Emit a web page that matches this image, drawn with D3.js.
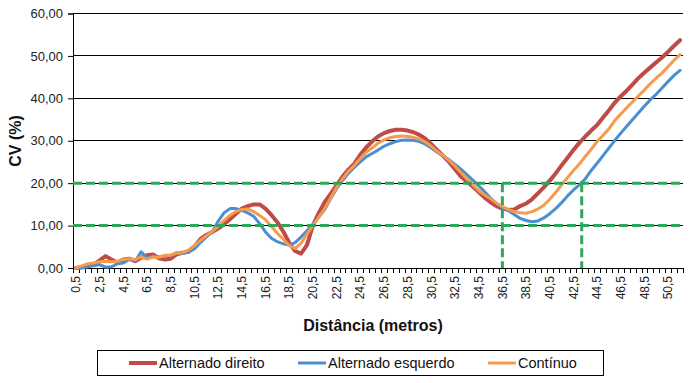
<!DOCTYPE html>
<html><head><meta charset="utf-8">
<script src="https://cdn.jsdelivr.net/npm/d3@7/dist/d3.min.js"></script>
<style>
body{margin:0;background:#fff;}
svg{display:block;font-family:"Liberation Sans",Arial,sans-serif;}
</style></head>
<body><svg id="c" width="692" height="383"></svg>
<script>
const distances = d3.range(0.5, 51.75, 0.5);
const alternadoDireito = [0,0.2,0.5,0.8,1.8,2.8,2.0,1.3,2.0,2.2,1.6,2.4,3.0,3.2,2.3,2.0,2.2,3.2,3.6,3.8,
5.0,6.8,7.8,8.5,9.3,10.3,11.5,12.8,14.0,14.6,15.0,15.0,14.0,12.5,10.8,8.6,6.0,4.0,3.4,5.4,
10.0,13.0,15.5,17.5,19.5,21.5,23.2,24.6,26.7,28.4,29.8,31.0,31.8,32.3,32.6,32.6,32.4,32.0,31.4,30.5,
29.2,27.8,26.4,25.0,23.3,21.6,20.4,19.2,17.9,16.6,15.5,14.6,14.0,13.7,13.8,14.6,15.2,16.2,17.6,19.0,
20.6,22.3,24.2,26.0,27.8,29.5,31.0,32.4,33.7,35.5,37.2,39.0,40.5,41.8,43.3,44.8,46.1,47.3,48.5,49.7,
51.0,52.4,53.7];
const alternadoEsquerdo = [0,0,0.3,0.5,0.8,0.2,0.3,1.0,1.2,2.0,1.6,3.8,2.4,2.8,2.6,2.8,3.0,3.6,3.4,3.8,
4.5,6.0,7.3,8.5,11.0,13.0,14.0,14.0,13.6,13.0,12.2,10.5,8.5,7.0,6.2,5.7,5.4,6.0,7.3,8.8,
10.3,12.0,13.8,16.3,18.7,20.6,22.3,23.7,25.0,26.2,27.0,27.8,28.7,29.3,29.8,30.1,30.2,30.1,29.8,29.2,
28.3,27.3,26.4,25.5,24.4,23.3,22.0,20.7,19.4,18.0,16.5,15.2,14.2,13.5,12.6,11.7,11.2,10.9,11.1,11.8,
12.8,14.0,15.4,17.0,18.4,19.6,21.0,23.0,24.7,26.5,28.3,30.1,31.8,33.4,35.0,36.6,38.2,39.7,41.0,42.5,
44.0,45.4,46.6];
const continuo = [0,0.5,1.0,1.2,1.5,1.6,1.5,1.6,2.0,2.2,2.0,2.6,2.1,2.6,2.5,3.0,3.0,3.5,3.6,4.2,
5.3,6.5,7.6,8.6,9.8,11.2,12.4,13.3,13.8,13.9,13.3,12.4,11.4,9.8,8.2,6.8,5.3,4.6,5.8,8.0,
10.0,12.0,14.0,16.5,19.0,21.0,22.8,24.2,25.8,27.3,28.3,29.4,30.2,30.7,31.0,31.1,31.0,30.8,30.4,29.7,
28.7,27.5,26.5,25.3,24.0,22.5,21.0,19.6,18.2,17.2,16.3,15.3,14.5,13.8,13.3,13.0,12.9,13.3,13.9,14.8,
16.2,17.8,19.6,21.3,23.0,24.5,26.3,28.0,29.8,31.3,32.8,34.8,36.3,37.8,39.2,40.6,42.0,43.5,44.8,46.0,
47.5,49.0,50.3];
const seriesNames = ["Alternado direito","Alternado esquerdo","Contínuo"];
const seriesColors = ["#be4b48","#4a8fd2","#f79a4a"];
const seriesWidths = [4,3,3];
const yTicks = [0,10,20,30,40,50,60];
const xTickLabels = ["0,5","2,5","4,5","6,5","8,5","10,5","12,5","14,5","16,5","18,5","20,5","22,5","24,5","26,5","28,5","30,5","32,5","34,5","36,5","38,5","40,5","42,5","44,5","46,5","48,5","50,5"];
const refH = [10,20];
const refV = [36.5,43.2];
const refVTop = 20;

const svg = d3.select("#c");
const L=73, R=683, T=13.5, B=268;
const x = d3.scaleLinear().domain([0.25, 51.75]).range([L, R]);
const y = d3.scaleLinear().domain([0, 60]).range([B, T]);
const fmt = v => d3.format(".2f")(v).replace(".", ",");

// gridlines
svg.append("g").selectAll("line").data(yTicks.filter(v=>v>0)).join("line")
  .attr("x1",L).attr("x2",R).attr("y1",d=>y(d)).attr("y2",d=>y(d))
  .attr("stroke","#000").attr("stroke-width",1).attr("shape-rendering","crispEdges");

// y axis
const ya = svg.append("g").attr("transform",`translate(${L},0)`)
  .call(d3.axisLeft(y).tickValues(yTicks).tickFormat(fmt).tickSize(5).tickPadding(5));
ya.select(".domain").attr("stroke","#000");
ya.selectAll("text").attr("font-size","13px").attr("fill","#222").attr("font-family","Liberation Sans, Arial");

// x axis ticks between categories
const boundaries = d3.range(0.25, 51.8, 0.5);
const xa = svg.append("g");
xa.append("line").attr("x1",L).attr("x2",R).attr("y1",B).attr("y2",B).attr("stroke","#000").attr("shape-rendering","crispEdges");
xa.selectAll("line.t").data(boundaries).join("line").attr("class","t")
  .attr("x1",d=>Math.round(x(d))+0.5).attr("x2",d=>Math.round(x(d))+0.5).attr("y1",B).attr("y2",B+5)
  .attr("stroke","#000");
xa.selectAll("text").data(xTickLabels).join("text")
  .attr("transform",d=>`translate(${x(+d.replace(",", "."))},${B+8}) rotate(-90)`)
  .attr("text-anchor","end").attr("dy","0.35em")
  .attr("font-size","12px").attr("fill","#222").text(d=>d);

// series
const allSeries = [alternadoDireito, alternadoEsquerdo, continuo];
const line = d3.line().x((d,i)=>x(distances[i])).y(d=>y(d));
svg.append("g").selectAll("path").data(allSeries).join("path")
  .attr("d",d=>line(d)).attr("fill","none")
  .attr("stroke",(d,i)=>seriesColors[i]).attr("stroke-width",(d,i)=>seriesWidths[i])
  .attr("stroke-linejoin","round").attr("stroke-linecap","round");

// reference dashed lines
const green = "#2ea65a";
svg.append("g").selectAll("line").data(refH).join("line")
  .attr("x1",L).attr("x2",R).attr("y1",d=>y(d)).attr("y2",d=>y(d))
  .attr("stroke",green).attr("stroke-width",3).attr("stroke-dasharray","9,4");
svg.append("g").selectAll("line").data(refV).join("line")
  .attr("x1",d=>x(d)).attr("x2",d=>x(d)).attr("y1",y(refVTop)).attr("y2",B)
  .attr("stroke",green).attr("stroke-width",3).attr("stroke-dasharray","9,4");

// axis titles
svg.append("text").attr("x",373).attr("y",331).attr("text-anchor","middle")
  .attr("font-size","16px").attr("font-weight","bold").attr("fill","#111").text("Distância (metros)");
svg.append("text").attr("transform","translate(21,141) rotate(-90)").attr("text-anchor","middle")
  .attr("font-size","16px").attr("font-weight","bold").attr("fill","#111").text("CV (%)");

// legend
svg.append("rect").attr("x",97.5).attr("y",350.5).attr("width",506).attr("height",25)
  .attr("fill","#fff").attr("stroke","#000").attr("stroke-width",1);
const legX = [129,298,488];
const lg = svg.append("g").selectAll("g").data(seriesNames).join("g")
  .attr("transform",(d,i)=>`translate(${legX[i]},0)`);
lg.append("line").attr("x1",0).attr("x2",28).attr("y1",363).attr("y2",363)
  .attr("stroke",(d,i)=>seriesColors[i]).attr("stroke-width",(d,i)=>seriesWidths[i]);
lg.append("text").attr("x",30).attr("y",368).attr("font-size","14.5px").attr("fill","#111").text(d=>d);
</script></body></html>
